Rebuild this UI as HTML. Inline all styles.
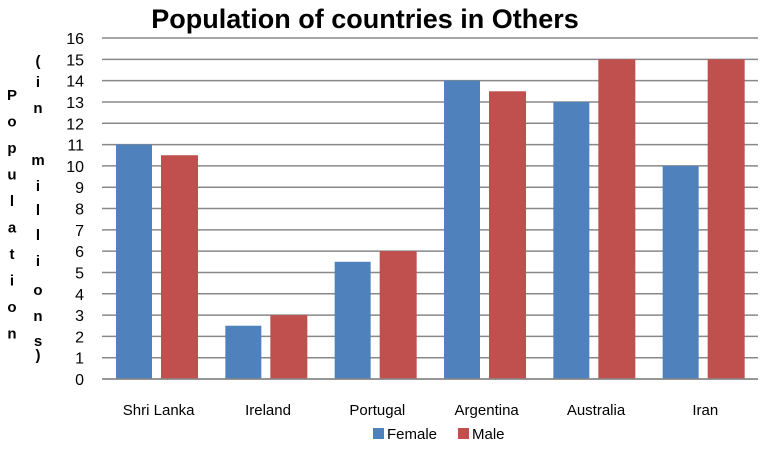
<!DOCTYPE html>
<html><head><meta charset="utf-8"><style>
body{margin:0;background:#fff;width:768px;height:446px;overflow:hidden;font-family:"Liberation Sans",sans-serif}
svg text{font-family:"Liberation Sans",sans-serif}
</style></head><body>
<svg id="c" width="768" height="446"></svg>
<script>
const categories=["Shri Lanka","Ireland","Portugal","Argentina","Australia","Iran"];
const female=[11,2.5,5.5,14,13,10];
const male=[10.5,3,6,13.5,15,15];
const yTicks=[0,1,2,3,4,5,6,7,8,9,10,11,12,13,14,15,16];
const svg=document.getElementById('c');
const NS='http://www.w3.org/2000/svg';
const x0=102,x1=758,y0=379,y1=38,ymax=16;
const yS=v=>y0-(y0-y1)*v/ymax;
const bw=(x1-x0)/categories.length;
function mk(t,a,txt){const e=document.createElementNS(NS,t);for(const k in a)e.setAttribute(k,a[k]);if(txt!=null)e.textContent=txt;svg.appendChild(e);return e;}
let t=mk('text',{x:365,y:28,'text-anchor':'middle','font-size':'27','font-weight':'bold',fill:'#000'},'Population of countries in Others');


yTicks.forEach(v=>{
 const l=mk('line',{x1:x0,x2:x1,y1:yS(v),y2:yS(v),stroke:'#888','stroke-width':1.5});
 
 
 const tx=mk('text',{x:84,y:yS(v)+6,'text-anchor':'end','font-size':'16',fill:'#000'},String(v));
 
 
});
categories.forEach((c,i)=>{
 const cx=x0+bw*i;
 const f=mk('rect',{x:cx+14,y:yS(female[i]),width:36,height:y0-yS(female[i]),fill:'#4f81bd'});
 
 
 const m=mk('rect',{x:cx+59,y:yS(male[i]),width:37,height:y0-yS(male[i]),fill:'#c0504d'});
 
 
 const tl=mk('text',{x:cx+bw/2+2,y:415,'text-anchor':'middle','font-size':'15',fill:'#000'},c);
 
 
});
const ax=mk('line',{x1:x0,x2:x1,y1:y0,y2:y0,stroke:'#888','stroke-width':1.5});


const yl1="Population".split('');
yl1.forEach((ch,i)=>{const e=mk('text',{x:12,y:100+i*26.5,'text-anchor':'middle','font-size':'15','font-weight':'bold'},ch);
 
 });
const yl2=[["(",66],["i",87],["n",113],["m",165],["i",191],["l",215],["l",240],["i",266],["o",295],["n",321],["s",346],[")",360]];
yl2.forEach(p=>{const e=mk('text',{x:38,y:p[1],'text-anchor':'middle','font-size':'15','font-weight':'bold'},p[0]);
 
 });
const s1=mk('rect',{x:373,y:428,width:11,height:11,fill:'#4f81bd'});


const l1=mk('text',{x:387,y:439,'font-size':'15'},'Female');


const s2=mk('rect',{x:458,y:428,width:11,height:11,fill:'#c0504d'});


const l2=mk('text',{x:472,y:439,'font-size':'15'},'Male');


</script>
</body></html>
